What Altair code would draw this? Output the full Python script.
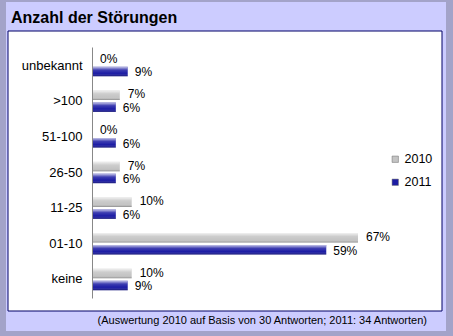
import altair as alt
import pandas as pd

categories = ["unbekannt", ">100", "51-100", "26-50", "11-25", "01-10", "keine"]
values_2010 = [0, 7, 0, 7, 10, 67, 10]
values_2011 = [9, 6, 6, 6, 6, 59, 9]
years = ["2010", "2011"]
colors = ["#c4c4c4", "#1c1ca4"]
title_text = "Anzahl der Störungen"
footer_text = "(Auswertung 2010 auf Basis von 30 Antworten; 2011: 34 Antworten)"

rows = []
for c, a, b in zip(categories, values_2010, values_2011):
    rows.append({"Kategorie": c, "Jahr": "2010", "Wert": a})
    rows.append({"Kategorie": c, "Jahr": "2011", "Wert": b})
df = pd.DataFrame(rows)

W, H = 434, 280
FONT = "Liberation Sans"

y_enc = alt.Y(
    "Kategorie:N",
    sort=categories,
    scale=alt.Scale(range=[16, 267], paddingInner=0.4, paddingOuter=0.22),
    axis=alt.Axis(title=None, offset=-84, domainColor="#888888", domainWidth=1,
                  ticks=False, labelPadding=10, labelFontSize=13, labelFont=FONT,
                  labelColor="black", grid=False, zindex=1),
)
x_enc = alt.X("Wert:Q", scale=alt.Scale(domain=[0, 100], range=[84, 481]), axis=None)
yo_enc = alt.YOffset("Jahr:N", scale=alt.Scale(domain=years, paddingInner=0.2))

base = alt.Chart(df).encode(x=x_enc, y=y_enc, yOffset=yo_enc)

bars = base.mark_bar().encode(
    color=alt.Color(
        "Jahr:N",
        scale=alt.Scale(domain=years, range=colors),
        legend=alt.Legend(title=None, orient="none", legendX=381, legendY=122,
                          symbolType="square", symbolSize=40, labelFontSize=12.5,
                          labelFont=FONT, labelColor="black", labelOffset=3,
                          rowPadding=10, padding=0, symbolStrokeColor="#666666",
                          symbolStrokeWidth=0.5, zindex=1),
    )
)

highlight = base.mark_bar(
    fill=alt.Gradient(
        gradient="linear",
        stops=[
            alt.GradientStop(color="rgba(255,255,255,0.75)", offset=0),
            alt.GradientStop(color="rgba(255,255,255,0.15)", offset=0.35),
            alt.GradientStop(color="rgba(255,255,255,0)", offset=0.7),
            alt.GradientStop(color="rgba(0,0,0,0.3)", offset=1),
        ],
        x1=0, x2=0, y1=0, y2=1,
    )
)

lab_base = base.transform_calculate(label="datum.Wert + '%'")
labels_2010 = lab_base.transform_filter(alt.datum.Jahr == "2010").mark_text(
    align="left", baseline="middle", dx=8, dy=-1, fontSize=12, font=FONT, color="black"
).encode(text="label:N")
labels_2011 = lab_base.transform_filter(alt.datum.Jahr == "2011").mark_text(
    align="left", baseline="middle", dx=7, dy=1, fontSize=12, font=FONT, color="black"
).encode(text="label:N")

frame_df = pd.DataFrame({"k": [0]})
outer = alt.Chart(frame_df).mark_rect(color="#ccccff").encode(
    x=alt.value(-2), x2=alt.value(438), y=alt.value(-29), y2=alt.value(300)
)
inner = alt.Chart(frame_df).mark_rect(fill="white", stroke="#000066", strokeWidth=1).encode(
    x=alt.value(0), x2=alt.value(W), y=alt.value(0), y2=alt.value(H)
)
title = alt.Chart(frame_df).mark_text(
    text=title_text, align="left", baseline="alphabetic", fontSize=16, font=FONT,
    fontWeight="bold", color="black"
).encode(x=alt.value(3), y=alt.value(-8))
footer = alt.Chart(frame_df).mark_text(
    text=footer_text, align="right", baseline="middle", fontSize=11, font=FONT, color="black"
).encode(x=alt.value(419), y=alt.value(290))

chart = alt.layer(outer, inner, bars, highlight, labels_2010, labels_2011, title, footer).properties(
    width=W,
    height=H,
    padding={"left": 8, "top": 31, "right": 11, "bottom": 25},
    autosize=alt.AutoSizeParams(type="none"),
    background="#a3a3c9",
).configure_view(stroke=None)

chart.save("out.html", embed_options={"renderer": "svg", "actions": False})
